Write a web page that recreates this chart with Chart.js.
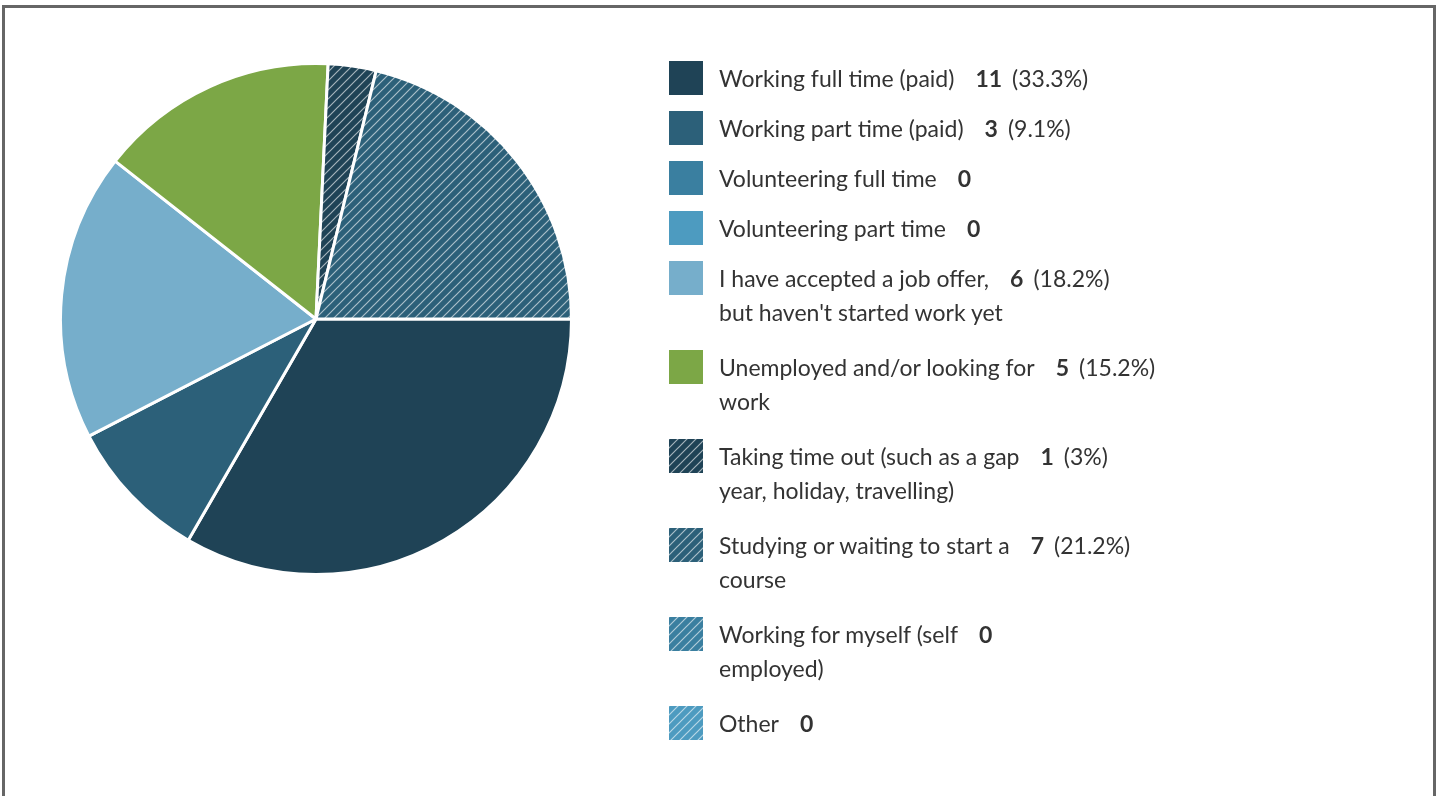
<!DOCTYPE html>
<html>
<head>
<meta charset="utf-8">
<script src="https://cdn.jsdelivr.net/npm/chart.js@4"></script>
<style>
  html, body { margin: 0; padding: 0; background: #fff; overflow: hidden; }
  body { width: 1437px; height: 796px; position: relative; font-family: Lato, "Open Sans", sans-serif; color: #333; }
  #frame { position: absolute; left: 2px; top: 5px; width: 1428px; height: 900px; border: 3px solid #666; }
  #pieBox { position: absolute; left: 59px; top: 62px; width: 514px; height: 514px; }
  #legend { position: absolute; left: 669px; top: 61px; }
  .row { display: flex; align-items: flex-start; margin-bottom: 16px; }
  .row.tall { margin-bottom: 21px; }
  .row canvas { width: 34px; height: 34px; margin-right: 16px; flex: none; }
  .lbl { font-size: 23px; line-height: 34px; white-space: nowrap; }
  .val { font-weight: bold; margin-left: 21px; }
  .pct { margin-left: 10px; }
</style>
</head>
<body>
<div id="frame"></div>
<div id="pieBox"><canvas id="myChart"></canvas></div>
<div id="legend"></div>
<script>
// answers, in legend order (lines kept as they wrap in the legend)
const answerLabels = [
  ["Working full time (paid)"],
  ["Working part time (paid)"],
  ["Volunteering full time"],
  ["Volunteering part time"],
  ["I have accepted a job offer,", "but haven't started work yet"],
  ["Unemployed and/or looking for", "work"],
  ["Taking time out (such as a gap", "year, holiday, travelling)"],
  ["Studying or waiting to start a", "course"],
  ["Working for myself (self", "employed)"],
  ["Other"]
];
const answerCounts = [11, 3, 0, 0, 6, 5, 1, 7, 0, 0];
const baseColors = ["#1f4356", "#2c6079", "#3a7fa0", "#4d9bc0", "#76aecb", "#7ca746",
                    "#1f4356", "#2c6079", "#3a7fa0", "#4d9bc0"];
const hatched = [false, false, false, false, false, false, true, true, true, true];

const total = answerCounts.reduce((a, b) => a + b, 0);

const makePattern = (color) => {
  const n = 9;
  const tile = document.createElement('canvas');
  tile.width = n;
  tile.height = n;
  const t = tile.getContext('2d');
  t.fillStyle = color;
  t.fillRect(0, 0, n, n);
  t.strokeStyle = 'rgba(255,255,255,0.6)';
  t.lineWidth = 1.2;
  t.beginPath();
  t.moveTo(-1, n + 1); t.lineTo(n + 1, -1);
  t.moveTo(-1, 1); t.lineTo(1, -1);
  t.moveTo(n - 1, n + 1); t.lineTo(n + 1, n - 1);
  t.stroke();
  return t.createPattern(tile, 'repeat');
};

const fills = baseColors.map((c, i) => hatched[i] ? makePattern(c) : c);

const fmtPct = (v) => {
  let p = Math.round(v / total * 1000) / 10;
  return String(p).replace(/\.0$/, '');
};

// legend: count and percent follow the first line of the label
const legend = document.getElementById('legend');
answerLabels.forEach((lines, i) => {
  const row = document.createElement('div');
  row.className = 'row' + (lines.length > 1 ? ' tall' : '');
  const sw = document.createElement('canvas');
  sw.width = 34; sw.height = 34;
  const sctx = sw.getContext('2d');
  sctx.fillStyle = fills[i];
  sctx.fillRect(0, 0, 34, 34);
  row.appendChild(sw);
  const lbl = document.createElement('div');
  lbl.className = 'lbl';
  lbl.appendChild(document.createTextNode(lines[0]));
  const val = document.createElement('span');
  val.className = 'val';
  val.textContent = answerCounts[i];
  lbl.appendChild(val);
  if (answerCounts[i] > 0) {
    const pct = document.createElement('span');
    pct.className = 'pct';
    pct.textContent = '(' + fmtPct(answerCounts[i]) + '%)';
    lbl.appendChild(pct);
  }
  lines.slice(1).forEach(l => {
    lbl.appendChild(document.createElement('br'));
    lbl.appendChild(document.createTextNode(l));
  });
  row.appendChild(lbl);
  legend.appendChild(row);
});

const ctx = document.getElementById('myChart').getContext('2d');
const chart = new Chart(ctx, {
  type: 'pie',
  data: {
    labels: answerLabels.map(l => l.join(' ')),
    datasets: [{
      data: answerCounts,
      backgroundColor: fills,
      borderColor: '#ffffff',
      borderWidth: 3
    }]
  },
  options: {
    responsive: true,
    maintainAspectRatio: false,
    animation: false,
    rotation: 90,
    layout: { padding: 0 },
    plugins: {
      legend: { display: false },
      tooltip: { enabled: false }
    }
  }
});
</script>
</body>
</html>
